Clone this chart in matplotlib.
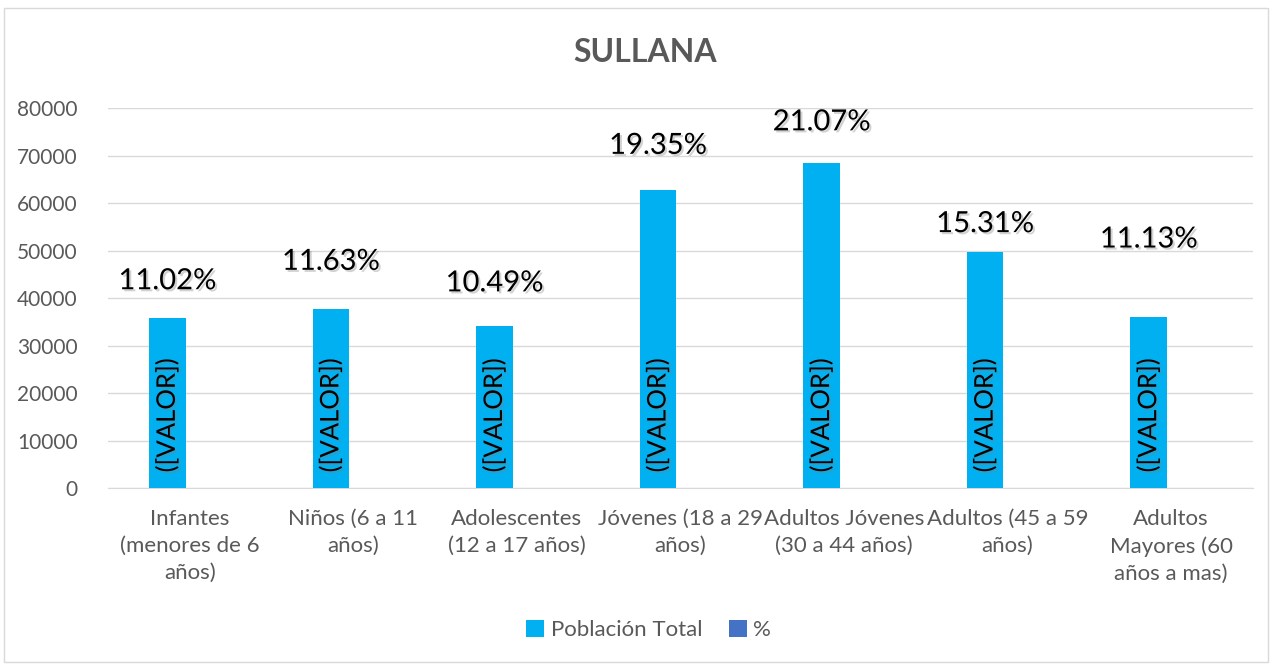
import matplotlib
matplotlib.use("Agg")
import matplotlib.pyplot as plt
import matplotlib.patheffects as pe
from matplotlib.patches import Rectangle, Patch

# datos
categorias = [
    "Infantes\n(menores de 6\naños)",
    "Niños (6 a 11\naños)",
    "Adolescentes\n(12 a 17 años)",
    "Jóvenes (18 a 29\naños)",
    "Adultos Jóvenes\n(30 a 44 años)",
    "Adultos (45 a 59\naños)",
    "Adultos\nMayores (60\naños a mas)",
]
poblacion = [35771, 37751, 34050, 62810, 68393, 49696, 36128]
porcentaje = ["11.02%", "11.63%", "10.49%", "19.35%", "21.07%", "15.31%", "11.13%"]
# desplazamiento (px) de cada etiqueta % sobre la barra
desplaz_etiqueta = [37, 47, 43, 44, 41, 28, 77]

plt.rcParams['font.family'] = ['Lato', 'DejaVu Sans']
GRIS = '#595959'
CIAN = '#00B0F0'
AZUL = '#4472C4'

fig = plt.figure(figsize=(12.72, 6.64), dpi=100)
fig.patches.append(Rectangle((0.003, 0.003), 0.994, 0.985, transform=fig.transFigure,
                             fill=False, edgecolor='#D9D9D9', linewidth=1))
ax = fig.add_axes([0.0849, 0.265, 0.9001, 0.572])

x = list(range(len(categorias)))
xb = [i - 0.1375 for i in x]
ax.bar(xb, poblacion, width=0.224, color=CIAN, zorder=3)

ax.set_xlim(-0.5, len(categorias) - 0.5)
ax.set_ylim(0, 80000)
ax.set_yticks(range(0, 80001, 10000))
ax.grid(axis='y', color='#D9D9D9', linewidth=1, zorder=0)
ax.set_axisbelow(True)
for s in ['top', 'right', 'left']:
    ax.spines[s].set_visible(False)
ax.spines['bottom'].set_color('#D9D9D9')
ax.tick_params(axis='both', length=0, colors=GRIS)
ax.tick_params(axis='y', pad=22, labelsize=15)
ax.tick_params(axis='x', pad=15, labelsize=16)
ax.set_xticks(x)
ax.set_xticklabels(categorias, linespacing=1.45)

sombra = [pe.SimplePatchShadow(offset=(1.5, -1.5), shadow_rgbFace='#808080', alpha=0.35), pe.Normal()]
for xi, v, p, d in zip(xb, poblacion, porcentaje, desplaz_etiqueta):
    ax.text(xi, 3300, "([VALOR])", rotation=90, ha='center', va='bottom',
            fontsize=18.5, color='black', zorder=4, path_effects=sombra)
    ax.annotate(p, (xi, v), xytext=(0, d), textcoords='offset pixels', ha='center',
                va='center', fontsize=21, color='black', path_effects=sombra, zorder=4)

fig.text(0.507, 0.921, "SULLANA", ha='center', va='center', fontsize=23,
         fontweight='bold', color=GRIS)

handles = [Patch(facecolor=CIAN, label='Población Total'), Patch(facecolor=AZUL, label='%')]
fig.legend(handles=handles, loc='center', bbox_to_anchor=(0.51, 0.051), ncol=2, frameon=False,
           fontsize=16, labelcolor=GRIS, handlelength=0.8, handleheight=0.8,
           handletextpad=0.3, columnspacing=1.2)

fig.savefig('out.png', dpi=100)
